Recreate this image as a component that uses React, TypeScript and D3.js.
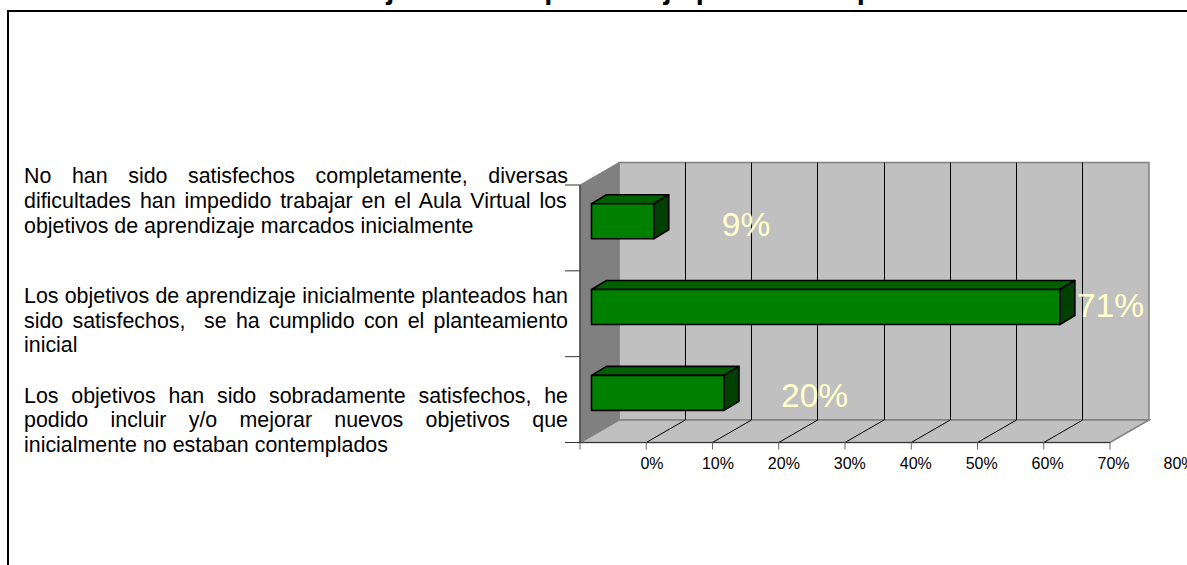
import React from "react";
import * as d3 from "d3";

const titleText = "Objetivos de aprendizaje planteados previamente";
const categoryLines = [
  ["No han sido satisfechos completamente, diversas", "dificultades han impedido trabajar en el Aula Virtual los", "objetivos de aprendizaje marcados inicialmente"],
  ["Los objetivos de aprendizaje inicialmente planteados han", "sido satisfechos,  se ha cumplido con el planteamiento", "inicial"],
  ["Los objetivos han sido sobradamente satisfechos, he", "podido incluir y/o mejorar nuevos objetivos que", "inicialmente no estaban contemplados"],
];
const categories = ["a", "b", "c"];
const values = [9.4, 70.7, 20];
const valueLabels = ["9%", "71%", "20%"];
const labelOffsets = [68, 17, 57];
const labelRise = [32, 27, 32];
const catLabelShift = [-44.5, -10.5, 3];
const ticks = [0, 10, 20, 30, 40, 50, 60, 70, 80];

const W = 1187, H = 565;
const X0 = 580, X1 = 1110, YT = 185, YB = 442.5, DX = 39, DY = 22.5;
const BAR_DX = 11.5, BAR_DY = 6.7, BAR_H = 35, SIDE_DX = 15, SIDE_DY = 9;
const FONT = "'Liberation Sans', Arial, sans-serif";
const CAT_FONT_SIZE = 21.4;

const x = d3.scaleLinear().domain([0, 80]).range([X0, X1]);
const labelX = d3.scaleLinear().domain([0, 80]).range([652, 1179.5]);
const y = d3.scaleBand<string>().domain(categories).range([YT, YB]);
const bx = (v: number) => x(v) + BAR_DX;

function measure(s: string): number {
  const ctx = document.createElement("canvas").getContext("2d")!;
  ctx.font = `${CAT_FONT_SIZE}px 'Liberation Sans'`;
  return ctx.measureText(s).width;
}

function CatLabel({ lines, top }: { lines: string[]; top: number }) {
  const left = 24, right = 568;
  return (
    <g fontFamily={FONT} fontSize={CAT_FONT_SIZE} fill="#000">
      {lines.map((line, i) => {
        const last = i === lines.length - 1;
        const gaps = (line.match(/ /g) || []).length;
        const ws = last ? 0 : (right - left - measure(line)) / gaps;
        return (
          <text key={i} x={left} y={top + i * 24.6} wordSpacing={ws} style={{ whiteSpace: "pre" }}>
            {line}
          </text>
        );
      })}
    </g>
  );
}

export default function App() {
  const path = d3.line();
  const poly = (pts: [number, number][]) => path(pts)! + "Z";
  return (
    <svg width={W} height={H} viewBox={`0 0 ${W} ${H}`} style={{ position: "fixed", left: 0, top: 0, background: "#fff" }}>
      <text x={346} y={-1} fontFamily={FONT} fontSize={29} fontWeight="bold" fill="#000">{titleText}</text>
      <path d={`M8 ${H}V11H${W}`} fill="none" stroke="#000" strokeWidth={2} />

      <path d={poly([[X0 + DX, YT - DY], [X1 + DX, YT - DY], [X1 + DX, YB - DY], [X0 + DX, YB - DY]])} fill="#C0C0C0" stroke="#808080" strokeWidth={1.5} />
      <path d={poly([[X0, YT], [X0 + DX, YT - DY], [X0 + DX, YB - DY], [X0, YB]])} fill="#808080" stroke="#808080" />
      <path d={poly([[X0, YB], [X0 + DX, YB - DY], [X1 + DX, YB - DY], [X1, YB]])} fill="#C0C0C0" stroke="#808080" strokeWidth={1.5} />

      {ticks.slice(1, -1).map((t) => (
        <g key={t}>
          <path d={`M${x(t)} ${YB}L${x(t) + DX} ${YB - DY}`} fill="none" stroke="#000" strokeWidth={1} />
          <path d={`M${Math.floor(x(t) + DX) + 0.5} ${YB - DY}V${YT - DY}`} fill="none" stroke="#000" strokeWidth={1} />
        </g>
      ))}

      <path d={`M${X0} ${YT}V${YB}H${X1}`} fill="none" stroke="#333" strokeWidth={1.2} />
      {[...categories.map((c) => y(c)!), YB].map((ty, i) => (
        <path key={i} d={`M${X0 - 15} ${ty}H${X0}`} stroke="#333" strokeWidth={1} />
      ))}
      {ticks.map((t) => (
        <path key={t} d={`M${x(t)} ${YB}v7`} stroke="#666" strokeWidth={1} />
      ))}
      {ticks.map((t) => (
        <text key={t} x={labelX(t)} y={468.5} textAnchor="middle" fontFamily={FONT} fontSize={16} fill="#000">{t}%</text>
      ))}

      {categories.map((c, i) => {
        const top = y(c)! + y.bandwidth() / 2 - BAR_DY - BAR_H / 2;
        const l = bx(0), r = bx(values[i]), b = top + BAR_H;
        return (
          <g key={c} stroke="#000" strokeWidth={1.6} strokeLinejoin="round">
            <path d={poly([[l, top], [l + SIDE_DX, top - SIDE_DY], [r + SIDE_DX, top - SIDE_DY], [r, top]])} fill="#006000" />
            <path d={poly([[r, top], [r + SIDE_DX, top - SIDE_DY], [r + SIDE_DX, b - SIDE_DY], [r, b]])} fill="#004000" />
            <rect x={l} y={top} width={r - l} height={BAR_H} fill="#008000" />
          </g>
        );
      })}
      {categories.map((c, i) => {
        const top = y(c)! + y.bandwidth() / 2 - BAR_DY - BAR_H / 2;
        return (
          <text key={c} x={bx(values[i]) + labelOffsets[i]} y={top + labelRise[i]} fontFamily={FONT} fontSize={33.5} fill="#FFFFCC">{valueLabels[i]}</text>
        );
      })}
      {categories.map((c, i) => (
        <CatLabel key={c} lines={categoryLines[i]} top={y(c)! + y.bandwidth() / 2 + catLabelShift[i]} />
      ))}
    </svg>
  );
}
